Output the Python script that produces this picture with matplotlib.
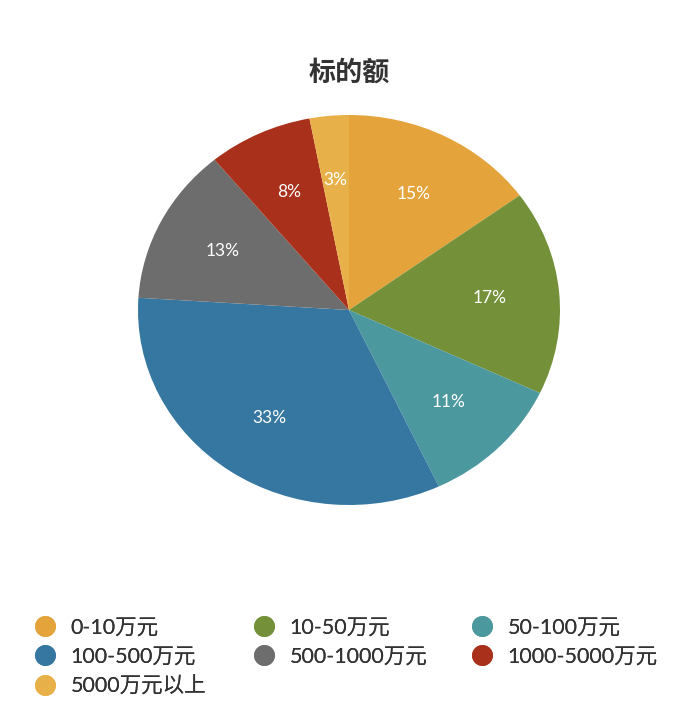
import matplotlib
matplotlib.use("Agg")
import matplotlib.pyplot as plt
from matplotlib.lines import Line2D

plt.rcParams['font.family'] = ['Lato', 'Noto Sans CJK SC', 'DejaVu Sans']

# données
categories = ['0-10万元', '10-50万元', '50-100万元', '100-500万元',
              '500-1000万元', '1000-5000万元', '5000万元以上']
parts = [15, 17, 11, 33, 13, 8, 3]
couleurs = ['#E4A43B', '#74913A', '#4B989F', '#3577A0',
            '#6D6D6D', '#A9301B', '#E8B048']

W, H = 693, 723
fig = plt.figure(figsize=(W / 100, H / 100), dpi=100)

# axe du camembert (légèrement elliptique comme l'original)
ax = fig.add_axes([138 / W, 1 - 505 / H, 422 / W, 390 / H])
wedges, txts, pcts = ax.pie(parts, colors=couleurs, startangle=90,
                            counterclock=False, autopct='%.0f%%',
                            pctdistance=0.67,
                            wedgeprops={'linewidth': 0},
                            textprops={'color': 'white', 'fontsize': 12.5})
ax.set_aspect('auto')
ax.set_xlim(-1, 1)
ax.set_ylim(-1, 1)

fig.text(349 / W, 1 - 72 / H, '标的额', ha='center', va='center',
         fontsize=19.5, fontweight='bold', color='#333333')

# légende : 3 colonnes placées à la main
col_x = [23, 242, 460]
for c in range(3):
    idx = list(range(c, len(categories), 3))
    handles = [Line2D([], [], marker='o', linestyle='', markersize=15,
                      markerfacecolor=couleurs[i], markeredgewidth=0)
               for i in idx]
    leg = fig.legend(handles, [categories[i] for i in idx],
                     loc='upper left',
                     bbox_to_anchor=(col_x[c] / W, 1 - 607 / H),
                     frameon=False, fontsize=15.5, labelcolor='#333333',
                     handlelength=1.0, handletextpad=0.7,
                     labelspacing=0.43, borderpad=0)
    fig.add_artist(leg)

fig.savefig('out.png', dpi=100, facecolor='white')
